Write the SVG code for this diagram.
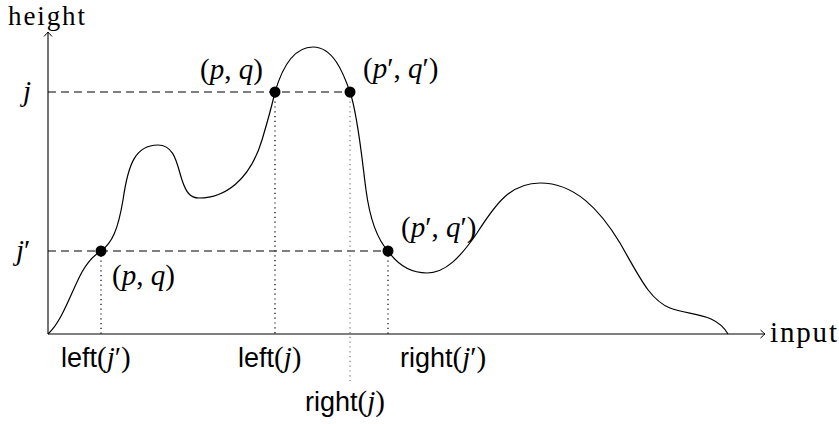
<svg xmlns="http://www.w3.org/2000/svg" width="839" height="424" viewBox="0 0 839 424">
<style>
.ax{stroke:#000;stroke-width:1.1;fill:none}
.dash{stroke:#000;stroke-width:1.1;stroke-dasharray:8,5;fill:none}
.dot{stroke:#000;stroke-width:1.2;stroke-dasharray:1.2,3.6;fill:none}
.dotg{stroke:#777;stroke-width:1.2;stroke-dasharray:1.2,3.6;fill:none}
.curve{stroke:#000;stroke-width:1.2;fill:none}
.m{font-family:"Liberation Serif","Times New Roman",serif;font-size:29px;fill:#000}
.i{font-style:italic}
.s{font-family:"Liberation Sans",Arial,sans-serif;font-size:27px}
.pt{fill:#000}
</style>
<defs>
<marker id="arr" viewBox="-6 -5 8 10" markerWidth="8" markerHeight="10" refX="0" refY="0" orient="auto" markerUnits="userSpaceOnUse">
<path d="M-4.5,-4 Q-1.2,-1 0,0 Q-1.2,1 -4.5,4" fill="none" stroke="#000" stroke-width="1"/>
</marker>
</defs>
<g id="axes">
<line class="ax" x1="48" y1="334" x2="48" y2="32" marker-end="url(#arr)"/>
<line class="ax" x1="48" y1="334" x2="765" y2="334" marker-end="url(#arr)"/>
<text class="m" x="8" y="25" style="font-size:27px" textLength="77">height</text>
<text class="m" x="770" y="342" textLength="67">input</text>
</g>
<g id="connectors">
<line class="dash" x1="48" y1="92" x2="351" y2="92"/>
<line class="dash" x1="48" y1="251" x2="388" y2="251"/>
<line class="dot" x1="101" y1="251" x2="101" y2="334"/>
<line class="dot" x1="275" y1="92" x2="275" y2="334"/>
<line class="dotg" x1="350" y1="92" x2="350" y2="381"/>
<line class="dot" x1="388" y1="251" x2="388" y2="334"/>
</g>
<g id="curve">
<path class="curve" d="M48,334 C62,322 72,290 82,272 C90,258 96,254 101,251 C112,243 118,230 123,200 C128,165 135,145 158,145 C175,145 177,165 182,180 C186,192 190,198 199,198 C225,198 250,180 262,140 C268,120 272,105 275,92 C280,75 290,47 313,47 C333,47 343,72 350,92 C358,115 362,160 366,190 C370,220 378,240 388,251 C398,265 410,273 427,273 C445,273 460,258 477,233 C495,205 510,183 540,183 C575,183 600,210 620,243 C640,278 650,300 670,308 C690,316 715,312 728,334"/>
</g>
<g id="labels">
<text class="m i" x="23" y="101">j</text>
<text class="m" x="16" y="260"><tspan class="i">j</tspan>′</text>
<text class="s" x="61" y="367">left<tspan class="m">(<tspan class="i">j</tspan>′)</tspan></text>
<text class="s" x="238" y="367">left<tspan class="m">(<tspan class="i">j</tspan>)</tspan></text>
<text class="s" x="400" y="367">right<tspan class="m">(<tspan class="i">j</tspan>′)</tspan></text>
<text class="s" x="305" y="411">right<tspan class="m">(<tspan class="i">j</tspan>)</tspan></text>
</g>
<g id="pq-upper">
<circle class="pt" cx="275" cy="92" r="5.5"/>
<text class="m" x="200" y="79">(<tspan class="i">p</tspan>, <tspan class="i">q</tspan>)</text>
</g>
<g id="pq2-upper">
<circle class="pt" cx="350" cy="92" r="5.5"/>
<text class="m" x="363" y="78">(<tspan class="i">p</tspan>′, <tspan class="i">q</tspan>′)</text>
</g>
<g id="pq-lower">
<circle class="pt" cx="101" cy="251" r="5.5"/>
<text class="m" x="112" y="285">(<tspan class="i">p</tspan>, <tspan class="i">q</tspan>)</text>
</g>
<g id="pq2-lower">
<circle class="pt" cx="388" cy="251" r="5.5"/>
<text class="m" x="401" y="237">(<tspan class="i">p</tspan>′, <tspan class="i">q</tspan>′)</text>
</g>
</svg>
